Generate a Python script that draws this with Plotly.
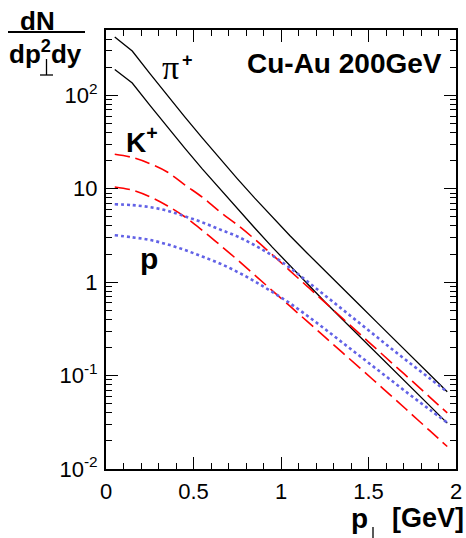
import plotly.graph_objects as go

# ---------------- data ----------------
pt = [0.05, 0.15, 0.25, 0.35, 0.45, 0.55, 0.65, 0.75, 0.85, 0.95,
      1.05, 1.15, 1.25, 1.35, 1.45, 1.55, 1.65, 1.75, 1.85, 1.95]

pion_upper = [421, 298, 171.4, 99.8, 58.7, 35.0, 21.1, 12.85, 7.93, 4.94,
              3.16, 2.04, 1.32, 0.865, 0.565, 0.369, 0.241, 0.157, 0.103, 0.0671]
pion_lower = [188.4, 135.5, 78.5, 46.0, 27.2, 16.3, 9.95, 6.14, 3.80, 2.37,
              1.50, 0.955, 0.617, 0.401, 0.261, 0.170, 0.111, 0.0726, 0.0474, 0.0310]
kaon_upper = [23.4, 21.6, 18.6, 15.1, 11.0, 8.13, 5.68, 4.11, 2.88, 1.97,
              1.33, 0.902, 0.610, 0.412, 0.279, 0.189, 0.128, 0.0871, 0.0589, 0.0398]
kaon_lower = [10.45, 9.66, 8.22, 6.58, 5.01, 3.59, 2.51, 1.74, 1.19, 0.813,
              0.556, 0.380, 0.259, 0.177, 0.121, 0.0824, 0.0562, 0.0380, 0.0257, 0.0174]
proton_upper = [6.82, 6.68, 6.35, 5.82, 5.07, 4.37, 3.67, 3.09, 2.48, 1.93,
                1.43, 1.02, 0.724, 0.513, 0.363, 0.257, 0.182, 0.130, 0.0933, 0.0668]
proton_lower = [3.18, 3.02, 2.83, 2.54, 2.21, 1.88, 1.585, 1.29, 1.02, 0.785,
                0.596, 0.437, 0.316, 0.226, 0.162, 0.116, 0.0832, 0.0596, 0.0432, 0.0313]

x_ticks = [0, 0.5, 1, 1.5, 2]
x_tick_text = ["0", "0.5", "1", "1.5", "2"]
y_ticks = [0.01, 0.1, 1, 10, 100]
y_tick_text = ["10<sup>-2</sup>", "10<sup>-1</sup>", "1", "10", "10<sup>2</sup>"]

# ---------------- layout helpers ----------------
W, H = 466, 538
L, R, T, B = 106, 456, 30, 469
SANS = "Liberation Sans, Arial, Helvetica, sans-serif"
SERIF = "Liberation Serif, Times New Roman, serif"


def px(x):
    return (x - L) / (R - L)


def py(y):
    return (B - y) / (B - T)


fig = go.Figure()

BLACK = dict(color="black", width=1.3)
RED = dict(color="#ff0000", width=1.6, dash="15px,6px")
BLUE = dict(color="#6262e6", width=2.6, dash="3px,3px")

for ys in (pion_upper, pion_lower):
    fig.add_trace(go.Scatter(x=pt, y=ys, mode="lines", line=BLACK, showlegend=False))
for ys in (kaon_upper, kaon_lower):
    fig.add_trace(go.Scatter(x=pt, y=ys, mode="lines", line=dict(RED, shape="spline"),
                             showlegend=False))
for ys in (proton_upper, proton_lower):
    fig.add_trace(go.Scatter(x=pt, y=ys, mode="lines", line=dict(BLUE, shape="spline"),
                             showlegend=False))

minor_log = [m * 10 ** e for e in range(-2, 3) for m in range(2, 10) if m * 10 ** e < 500]

axis_common = dict(
    showline=True, linecolor="black", linewidth=2, mirror="ticks",
    ticks="inside", tickcolor="black", tickwidth=1.4, ticklen=12,
    showgrid=False, zeroline=False, automargin=False,
    tickfont=dict(family=SANS, size=22, color="black"),
)

fig.update_xaxes(
    range=[0, 2], tickmode="array", tickvals=x_ticks, ticktext=x_tick_text,
    minor=dict(ticks="inside", ticklen=6, tickwidth=1.4, tickcolor="black", dtick=0.1, showgrid=False),
    ticklabelstandoff=2,
    **axis_common,
)
fig.update_yaxes(
    type="log", range=[-2, 2.699], tickmode="array", tickvals=y_ticks, ticktext=y_tick_text,
    minor=dict(ticks="inside", ticklen=6, tickwidth=1.4, tickcolor="black",
               tickmode="array", tickvals=minor_log, showgrid=False),
    ticklabelstandoff=2,
    **axis_common,
)

ann = []


def text(x, y, s, size, family=SANS, xanchor="center", yanchor="middle"):
    ann.append(dict(x=px(x), y=py(y), xref="paper", yref="paper", text=s, showarrow=False,
                    xanchor=xanchor, yanchor=yanchor,
                    font=dict(family=family, size=size, color="black")))


def seg(x0, y0, x1, y1, width=1.3):
    return dict(type="line", xref="paper", yref="paper",
                x0=px(x0), x1=px(x1), y0=py(y0), y1=py(y1),
                line=dict(color="black", width=width))


# y-axis title (fraction)
text(37, 21, "<b>dN</b>", 26)
text(45, 53, "<b>dp<sup>2</sup>dy</b>", 26)
# x-axis title
text(349, 518, "<b>p</b>", 28, xanchor="left")
text(466, 518, "<b>[GeV]</b>", 27, xanchor="right")
# labels inside plot
text(245, 63, "<b>Cu-Au 200GeV</b>", 28, xanchor="left")
text(160, 67, "π", 34, family=SERIF, xanchor="left")
text(180, 60, "<b>+</b>", 18, xanchor="left")
text(124, 140, "<b>K<sup>+</sup></b>", 28, xanchor="left")
text(138, 258, "<b>p</b>", 30, xanchor="left")

shapes = [
    seg(8, 32, 85, 32, width=2),        # fraction bar
    seg(46.5, 59, 46.5, 75),            # perpendicular sign (vertical)
    seg(40, 75, 53, 75),                # perpendicular sign (horizontal)
    seg(373, 527, 373, 538),            # x title perpendicular (clipped)
]

fig.update_layout(
    width=W, height=H,
    margin=dict(l=L, r=W - R, t=T, b=H - B, pad=0),
    paper_bgcolor="white", plot_bgcolor="white",
    annotations=ann,
    shapes=shapes,
)

fig.write_html(
    "out.html",
    config={"displayModeBar": False},
    post_script="document.body.style.margin='0';document.body.style.overflow='hidden';",
)
